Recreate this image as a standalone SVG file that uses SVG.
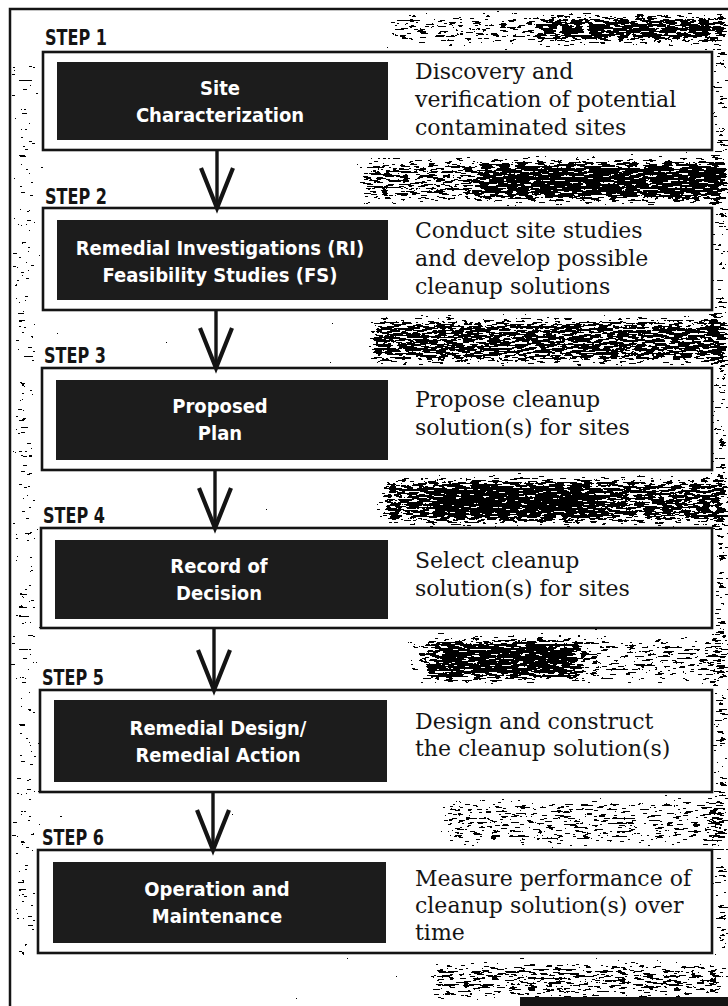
<svg xmlns="http://www.w3.org/2000/svg" width="728" height="1006" viewBox="0 0 728 1006">
  <style>
    .frame { fill: none; stroke: #141414; stroke-width: 2.5; }
    .box { fill: #ffffff; stroke: #141414; stroke-width: 2.6; }
    .dark { fill: #1c1c1c; }
    .step { font-family: "DejaVu Sans Condensed", "DejaVu Sans", sans-serif; font-weight: bold; font-size: 22px; fill: #141414; }
    .label { font-family: "DejaVu Sans Condensed", "DejaVu Sans", sans-serif; font-weight: bold; font-size: 20px; fill: #ffffff; text-anchor: middle; }
    .desc { font-family: "DejaVu Serif", "Liberation Serif", serif; font-size: 22px; fill: #141414; }
    .stem { stroke: #141414; stroke-width: 3.4; fill: none; }
    .head { stroke: #141414; stroke-width: 4.2; fill: none; stroke-linejoin: miter; }
  </style>
  <defs>
    <!-- speckled scan grain: density comes from the alpha of the shapes it is applied to -->
    <filter id="grain" filterUnits="userSpaceOnUse" x="0" y="0" width="728" height="1006">
      <feGaussianBlur in="SourceAlpha" stdDeviation="6" result="dens"/>
      <feTurbulence type="fractalNoise" baseFrequency="0.11 0.45" numOctaves="3" seed="11" result="noise"/>
      <feColorMatrix in="noise" type="matrix" values="0 0 0 0 0  0 0 0 0 0  0 0 0 0 0  1 0 0 0 0" result="n"/>
      <feComposite in="n" in2="dens" operator="arithmetic" k1="0" k2="1" k3="0.6" k4="-0.32" result="mix"/>
      <feComponentTransfer in="mix">
        <feFuncA type="discrete" tableValues="0 0 0 0 0 0 1 1 1 1"/>
      </feComponentTransfer>
    </filter>
  </defs>

  <rect x="0" y="0" width="728" height="1006" fill="#ffffff"/>

  <!-- grain patches -->
  <g id="grain" filter="url(#grain)" fill="#000">
    <rect x="390" y="14" width="338" height="30" fill-opacity="0.55"/>
    <rect x="540" y="16" width="188" height="26" fill-opacity="0.75"/>
    <rect x="360" y="158" width="368" height="44" fill-opacity="0.65"/>
    <rect x="480" y="163" width="248" height="38" fill-opacity="0.85"/>
    <rect x="370" y="318" width="358" height="46" fill-opacity="0.8"/>
    <rect x="380" y="478" width="348" height="46" fill-opacity="0.8"/>
    <rect x="430" y="482" width="170" height="40" fill-opacity="0.95"/>
    <rect x="410" y="636" width="318" height="46" fill-opacity="0.5"/>
    <rect x="430" y="640" width="150" height="40" fill-opacity="0.9"/>
    <rect x="440" y="798" width="288" height="48" fill-opacity="0.5"/>
    <rect x="430" y="962" width="298" height="36" fill-opacity="0.6"/>
    <rect x="714" y="46" width="14" height="910" fill-opacity="0.6"/>
    <rect x="12" y="60" width="26" height="900" fill-opacity="0.35"/>
  </g>
  <rect x="520" y="997" width="208" height="9" fill="#141414"/>

  <!-- outer frame -->
  <path class="frame" d="M10,1006 V9 H728"/>

  <g id="step1">
    <text class="step" x="45" y="45" textLength="62" lengthAdjust="spacingAndGlyphs">STEP 1</text>
    <rect class="box" x="43" y="52" width="669" height="98"/>
    <rect class="dark" x="57" y="62" width="331" height="78"/>
    <text class="label" x="220" y="95">Site</text>
    <text class="label" x="220" y="122">Characterization</text>
    <text class="desc" x="415" y="79">Discovery and</text>
    <text class="desc" x="415" y="107">verification of potential</text>
    <text class="desc" x="415" y="135">contaminated sites</text>
  </g>

  <g id="step2">
    <text class="step" x="45" y="204" textLength="62" lengthAdjust="spacingAndGlyphs">STEP 2</text>
    <rect class="box" x="43" y="208" width="669" height="102"/>
    <rect class="dark" x="57" y="220" width="331" height="80"/>
    <text class="label" x="220" y="255">Remedial Investigations (RI)</text>
    <text class="label" x="220" y="282">Feasibility Studies (FS)</text>
    <text class="desc" x="415" y="238">Conduct site studies</text>
    <text class="desc" x="415" y="266">and develop possible</text>
    <text class="desc" x="415" y="294">cleanup solutions</text>
  </g>

  <g id="step3">
    <text class="step" x="44" y="363" textLength="62" lengthAdjust="spacingAndGlyphs">STEP 3</text>
    <rect class="box" x="42" y="368" width="670" height="102"/>
    <rect class="dark" x="56" y="380" width="332" height="80"/>
    <text class="label" x="220" y="413">Proposed</text>
    <text class="label" x="220" y="440">Plan</text>
    <text class="desc" x="415" y="407">Propose cleanup</text>
    <text class="desc" x="415" y="435">solution(s) for sites</text>
  </g>

  <g id="step4">
    <text class="step" x="43" y="523" textLength="62" lengthAdjust="spacingAndGlyphs">STEP 4</text>
    <rect class="box" x="41" y="528" width="671" height="100"/>
    <rect class="dark" x="55" y="540" width="333" height="79"/>
    <text class="label" x="219" y="573">Record of</text>
    <text class="label" x="219" y="600">Decision</text>
    <text class="desc" x="415" y="568">Select cleanup</text>
    <text class="desc" x="415" y="596">solution(s) for sites</text>
  </g>

  <g id="step5">
    <text class="step" x="42" y="685" textLength="62" lengthAdjust="spacingAndGlyphs">STEP 5</text>
    <rect class="box" x="40" y="690" width="672" height="102"/>
    <rect class="dark" x="54" y="700" width="333" height="82"/>
    <text class="label" x="218" y="735">Remedial Design/</text>
    <text class="label" x="218" y="762">Remedial Action</text>
    <text class="desc" x="415" y="729">Design and construct</text>
    <text class="desc" x="415" y="756">the cleanup solution(s)</text>
  </g>

  <g id="step6">
    <text class="step" x="42" y="845" textLength="62" lengthAdjust="spacingAndGlyphs">STEP 6</text>
    <rect class="box" x="38" y="850" width="674" height="103"/>
    <rect class="dark" x="53" y="862" width="333" height="81"/>
    <text class="label" x="217" y="896">Operation and</text>
    <text class="label" x="217" y="923">Maintenance</text>
    <text class="desc" x="415" y="886">Measure performance of</text>
    <text class="desc" x="415" y="913">cleanup solution(s) over</text>
    <text class="desc" x="415" y="940">time</text>
  </g>

  <!-- connectors: stem plus open V head ending on the next box -->
  <g id="connectors">
    <path class="stem" d="M217,150 V208"/>
    <path class="head" d="M201,168 L217,208 L233,168"/>
    <path class="stem" d="M216,310 V368"/>
    <path class="head" d="M200,328 L216,368 L232,328"/>
    <path class="stem" d="M215,470 V528"/>
    <path class="head" d="M199,488 L215,528 L231,488"/>
    <path class="stem" d="M214,628 V690"/>
    <path class="head" d="M198,650 L214,690 L230,650"/>
    <path class="stem" d="M213,792 V850"/>
    <path class="head" d="M197,810 L213,850 L229,810"/>
  </g>
</svg>
